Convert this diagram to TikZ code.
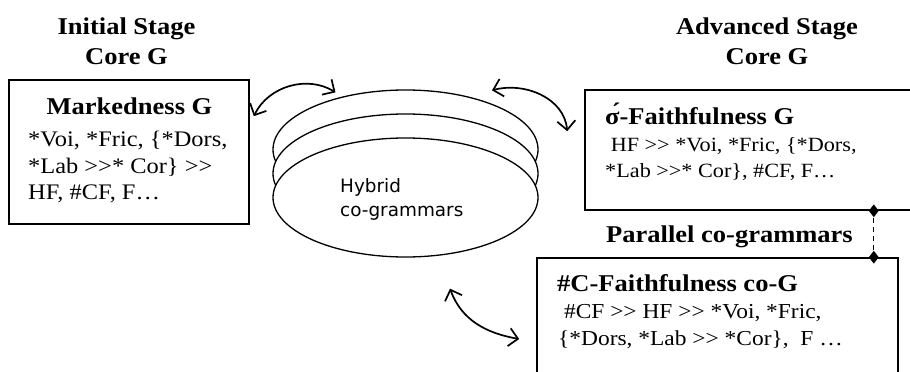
\documentclass[tikz,border=0pt]{standalone}
\usepackage{fontspec}
\setmainfont{Liberation Serif}[FakeStretch=1.1]
\newfontfamily\hybfont{DejaVu Sans}
\usetikzlibrary{arrows.meta}
\usetikzlibrary{shapes.geometric}
\usetikzlibrary{positioning}
\newcommand{\ranks}{>{}>}
\tikzset{
    gbox/.style={draw=black, line width=1.6pt, inner sep=0pt},
    layer/.style={draw=black, ellipse, fill=white, line width=1.3pt, inner sep=0pt,
        minimum width=265pt, minimum height=119pt},
    twoway/.style={<->, draw=black, line width=1.7pt,
        >={Straight Barb[length=9pt,width=18pt]}},
    joint/.style={diamond, fill=black, inner sep=0pt, minimum width=10pt, minimum height=13pt},
    stage/.style={font=\bfseries\fontsize{24.1}{30}\selectfont, align=center, inner sep=0pt},
    gtitle/.style={font=\bfseries\fontsize{24.1}{30}\selectfont, inner sep=0pt},
    rules/.style={align=left, inner sep=0pt}
}

\begin{document}
\begin{tikzpicture}[x=1pt,y=1pt]
	\path[use as bounding box, clip] (0,0) rectangle (910,372);
	% stage headings (base = last line)
	\node[stage, anchor=base] (initStage) at (126.5,307) {Initial Stage\\Core G};
	\node[stage, anchor=base] (advStage) at (767,307) {Advanced Stage\\Core G};
	% grammar boxes
	\node[gbox, minimum width=240pt, minimum height=144pt] (markG) at (129,220) {};
	\node[gbox, minimum width=345pt, minimum height=120pt] (sigmaG) at (757.5,222) {};
	\node[gbox, minimum width=361pt, minimum height=132pt] (cFaithG) at (717.5,48) {};
	\node[gtitle, anchor=base] (markTitle) at (129.5,257) {Markedness G};
	\node[rules, anchor=base west, font=\fontsize{22.2}{26.5}\selectfont] (markRules) at (28,172)
		{*Voi, *Fric, \{*Dors,\\*Lab \ranks* Cor\} \ranks\\HF, \#CF, F…};
	\node[gtitle, anchor=base west] (sigmaTitle) at (605,247) {σ́-Faithfulness G};
	\node[rules, anchor=base west, font=\fontsize{20.2}{26}\selectfont] (sigmaRules) at (605,194)
		{\ HF \ranks{} *Voi, *Fric, \{*Dors,\\*Lab \ranks* Cor\}, \#CF, F…};
	\node[gtitle, anchor=base west] (parLabel) at (606,129) {Parallel co-grammars};
	\node[gtitle, anchor=base west] (cTitle) at (557,80) {\#C-Faithfulness co-G};
	\node[rules, anchor=base west, font=\fontsize{21.3}{27}\selectfont] (cRules) at (558,27)
		{\ \#CF \ranks{} HF \ranks{} *Voi, *Fric,\\\{*Dors, *Lab \ranks{} *Cor\},\ \ F …};
	% stacked hybrid layers
	\node[layer] (hyb1) at (405.5,222.5) {};
	\node[layer] (hyb2) at (405.5,198.5) {};
	\node[layer] (hyb3) at (405.5,174.5) {};
	\node[rules, anchor=base west, font=\hybfont\fontsize{18.4}{24}\selectfont] (hybLabel) at (340,155)
		{Hybrid\\co-grammars};
	% interaction arrows
	\draw[twoway] ([xshift=4pt,yshift=-37pt]markG.north east) to[bend left=48] ([xshift=-70pt,yshift=-3pt]hyb1.north);
	\draw[twoway] ([xshift=86.5pt,yshift=-1pt]hyb1.north) to[out=15,in=95] ([xshift=-17pt,yshift=-42pt]sigmaG.north west);
	\draw[twoway] ([xshift=44.5pt,yshift=-31pt]hyb3.south) to[out=-70,in=170] ([xshift=-17pt,yshift=-15pt]cFaithG.west);
	% parallel link
	\coordinate (parTop) at ([xshift=-25pt]cFaithG.north east);
	\node[joint] (jointLow) at (parTop) {};
	\node[joint] (jointHigh) at (parTop |- sigmaG.south) {};
	\draw[line width=1pt, dash pattern=on 5pt off 4pt] (jointLow) -- (jointHigh);
\end{tikzpicture}
\end{document}
